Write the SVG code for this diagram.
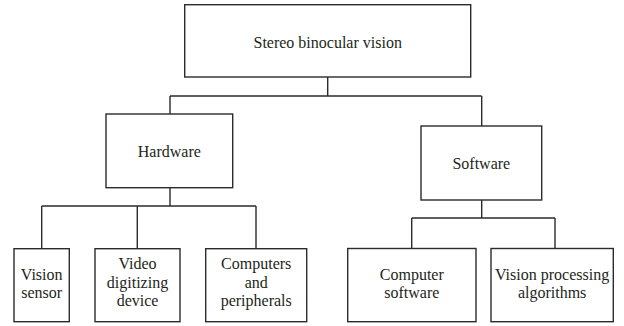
<svg xmlns="http://www.w3.org/2000/svg" width="624" height="326" viewBox="0 0 624 326">
<style>
.box{fill:#fff;stroke:#2b2b2b;stroke-width:1.4}
.c{fill:none;stroke:#2b2b2b;stroke-width:1.4}
text{font-family:"Liberation Serif","Times New Roman",serif;font-size:16px;fill:#231f20;text-anchor:middle}
</style>
<rect width="624" height="326" fill="#fff"/>
<g id="connectors">
<path class="c" d="M327.7,77 V96 M170,96 H481.7 M170,96 V114 M481.7,96 V126"/>
<path class="c" d="M170,188 V206 M41.7,206 H256 M41.7,206 V249 M137.3,206 V249 M256,206 V249"/>
<path class="c" d="M481.7,200 V218 M411.7,218 H555 M411.7,218 V248.5 M555,218 V248.5"/>
</g>
<g id="root"><rect class="box" x="184.7" y="4.7" width="286" height="72.3"/><text x="327.7" y="48">Stereo binocular vision</text></g>
<g id="hardware"><rect class="box" x="106" y="114" width="126.7" height="73.7"/><text x="169.3" y="156.5">Hardware</text></g>
<g id="software"><rect class="box" x="421" y="126" width="120.7" height="74"/><text x="481.3" y="168.5">Software</text></g>
<g id="vision-sensor"><rect class="box" x="14" y="248.7" width="55.3" height="73"/><text x="41.7" y="279.5">Vision</text><text x="41.7" y="298">sensor</text></g>
<g id="video"><rect class="box" x="95" y="248.7" width="85" height="73"/><text x="137.5" y="268.5">Video</text><text x="137.5" y="287.5">digitizing</text><text x="137.5" y="306">device</text></g>
<g id="computers"><rect class="box" x="205.7" y="248.7" width="101" height="73"/><text x="256.2" y="268.5">Computers</text><text x="256.2" y="287.5">and</text><text x="256.2" y="306">peripherals</text></g>
<g id="computer-software"><rect class="box" x="347.7" y="248.5" width="128.3" height="73.2"/><text x="411.8" y="280">Computer</text><text x="411.8" y="298">software</text></g>
<g id="vision-processing"><rect class="box" x="491" y="248.5" width="122.3" height="73.2"/><text x="552.1" y="280">Vision processing</text><text x="552.1" y="298">algorithms</text></g>
</svg>
